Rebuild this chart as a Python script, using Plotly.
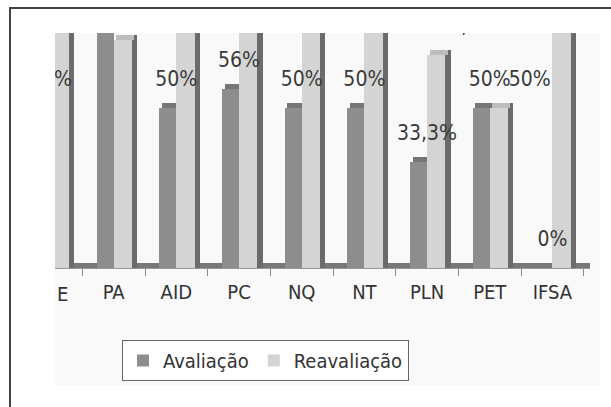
import plotly.graph_objects as go

# ---- data ----
categories = ["E", "PA", "AID", "PC", "NQ", "NT", "PLN", "PET", "IFSA"]
avaliacao = [50, 85.7, 50, 56, 50, 50, 33.3, 50, 0]
reavaliacao = [100, 71.4, 100, 100, 100, 100, 66.7, 50, 100]
series_names = ["Avaliação", "Reavaliação"]

# ---- styles ----
FONT = "DejaVu Sans Condensed, Liberation Sans Narrow, Arial Narrow, DejaVu Sans, sans-serif"
DARK = "#8d8d8d"
DARK_CAP = "#767676"
LIGHT = "#d4d4d4"
LIGHT_CAP = "#bdbdbd"
SIDE = "#6b6b6b"
CAP = 1.6          # depth of the 3-D top face (axis units)
LABEL_DY = 8.5     # label lift above bar top (axis units)
Y_RANGE = [0, 73.6]
X_RANGE = [0.064, 8.6]


def pct(v):
    return (f"{v:g}%").replace(".", ",")


def label(v):
    # labels lying wholly above the cropped top edge are not visible
    return pct(v) if v + LABEL_DY < Y_RANGE[1] + 5 else ""


idx = list(range(len(categories)))
dark_caps = [CAP if v > 0 else 0 for v in avaliacao]
light_caps = [CAP if v > 0 else 0 for v in reavaliacao]
side_h = [v + c for v, c in zip(reavaliacao, light_caps)]

fig = go.Figure()

# dark (Avaliação) front face
fig.add_trace(go.Bar(x=categories, y=avaliacao, name=series_names[0],
                     marker=dict(color=DARK, line=dict(width=0)),
                     offset=-0.27, width=0.27, legendrank=1))
# dark top face
fig.add_trace(go.Bar(x=categories, y=dark_caps, base=avaliacao, showlegend=False,
                     marker=dict(color=DARK_CAP, line=dict(width=0)),
                     offset=-0.23, width=0.27, hoverinfo="skip"))
# light side face
fig.add_trace(go.Bar(x=categories, y=side_h, showlegend=False,
                     marker=dict(color=SIDE, line=dict(width=0)),
                     offset=0.28, width=0.095, hoverinfo="skip"))
# light (Reavaliação) front face
fig.add_trace(go.Bar(x=categories, y=reavaliacao, name=series_names[1],
                     marker=dict(color=LIGHT, line=dict(width=0)),
                     offset=0.0, width=0.29, legendrank=2))
# light top face
fig.add_trace(go.Bar(x=categories, y=light_caps, base=reavaliacao, showlegend=False,
                     marker=dict(color=LIGHT_CAP, line=dict(width=0)),
                     offset=0.04, width=0.29, hoverinfo="skip"))

# value labels (on an overlaid numeric axis so they can sit beside the bars)
fig.add_trace(go.Scatter(x=[i + 0.0 for i in idx], y=[v + LABEL_DY for v in avaliacao],
                         text=[label(v) for v in avaliacao], mode="text",
                         textfont=dict(family=FONT, size=21, color="#3a3a3a"),
                         xaxis="x2", showlegend=False, cliponaxis=True, hoverinfo="skip"))
fig.add_trace(go.Scatter(x=[i + 0.64 for i in idx], y=[v + LABEL_DY for v in reavaliacao],
                         text=[label(v) for v in reavaliacao], mode="text",
                         textfont=dict(family=FONT, size=21, color="#3a3a3a"),
                         xaxis="x2", showlegend=False, cliponaxis=True, hoverinfo="skip"))

W, H = 611, 407
L, R, T, B = 55, 21, 33, 139
pw, ph = W - L - R, H - T - B


def px_x(p):
    return (p - L) / pw


def px_y(p):
    return (H - B - p) / ph


fig.update_layout(
    width=W, height=H,
    margin=dict(l=L, r=R, t=T, b=B),
    paper_bgcolor="white", plot_bgcolor="white",
    barmode="overlay", bargap=0,
    font=dict(family=FONT, color="#333333"),
    showlegend=True,
    legend=dict(orientation="h", x=px_x(122), y=px_y(340), xanchor="left", yanchor="top",
                bordercolor="#666666", borderwidth=1, bgcolor="white",
                font=dict(family=FONT, size=20, color="#333333"),
                itemwidth=30, traceorder="normal"),
    xaxis=dict(type="category", range=X_RANGE, tickson="boundaries",
               ticks="outside", ticklen=7, tickcolor="#8a8a8a",
               showline=True, linecolor="#9a9a9a", linewidth=1,
               showgrid=False, zeroline=False,
               tickfont=dict(family=FONT, size=20, color="#333333"),
               ticklabelstandoff=6),
    xaxis2=dict(range=X_RANGE, overlaying="x", visible=False),
    yaxis=dict(range=Y_RANGE, visible=False, showgrid=False, zeroline=False),
    annotations=[
        # first category's tick label, cut by the cropped left edge
        dict(text=categories[0], xref="paper", yref="paper", x=0, y=0,
             xanchor="left", yanchor="top", yshift=-12, showarrow=False,
             font=dict(family=FONT, size=20, color="#333333")),
    ],
    shapes=[
        # light chart background
        dict(type="rect", xref="paper", yref="paper", x0=0, x1=px_x(600),
             y0=px_y(385), y1=1, fillcolor="#f9f9f9", line=dict(width=0), layer="below"),
        # floor (3-D back edge)
        dict(type="rect", xref="paper", yref="y", x0=0, x1=1, y0=0, y1=CAP,
             fillcolor="#777777", line=dict(width=0), layer="below"),
        # outer frame
        dict(type="rect", xref="paper", yref="paper", x0=px_x(10), x1=1.2,
             y0=-0.9, y1=px_y(8), line=dict(color="#444444", width=2), layer="above"),
    ],
)

fig.write_html("out.html", config={"displayModeBar": False},
               post_script="document.body.style.margin='0';")
